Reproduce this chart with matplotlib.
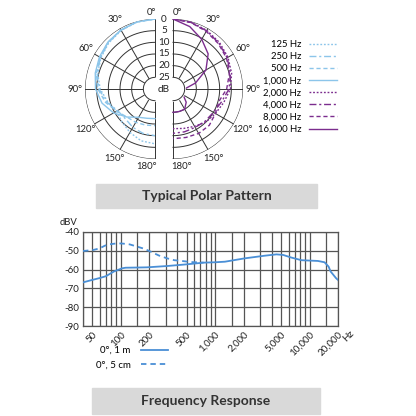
import numpy as np
import matplotlib
matplotlib.use("Agg")
import matplotlib.pyplot as plt
from matplotlib.patches import Rectangle
from matplotlib.transforms import offset_copy

plt.rcParams['font.family'] = ['Lato', 'DejaVu Sans']

# polar data: attenuation in dB at each angle (0 = front, 180 = rear)
angles = [0, 15, 30, 45, 60, 75, 90, 105, 120, 135, 150, 165, 180]
low_labels = ['125 Hz', '250 Hz', '500 Hz', '1,000 Hz']
low_db = [
    [0, 0.3, 1.0, 2.0, 3.2, 4.6, 6.5, 9.0, 11.0, 10.0, 8.5, 7.0, 6.5],
    [0, 0.2, 0.9, 1.8, 3.0, 4.3, 6.0, 8.5, 11.5, 12.0, 11.0, 10.3, 10.0],
    [0, 0.2, 0.8, 1.6, 2.8, 4.0, 5.5, 8.0, 11.0, 13.0, 13.5, 14.0, 14.3],
    [0, 0.2, 0.8, 1.5, 2.5, 3.5, 4.5, 6.5, 9.5, 13.0, 16.0, 17.0, 17.3],
]
high_labels = ['2,000 Hz', '4,000 Hz', '8,000 Hz', '16,000 Hz']
high_db = [
    [0, 0.3, 1.0, 1.8, 2.8, 4.0, 5.4, 7.5, 9.0, 10.0, 11.5, 12.5, 13.0],
    [0, 0.4, 1.2, 2.2, 3.2, 4.5, 6.0, 8.5, 10.0, 10.5, 11.0, 11.0, 11.0],
    [0, 0.5, 1.5, 2.5, 3.5, 5.0, 7.0, 9.6, 9.0, 8.0, 8.0, 8.5, 8.7],
    [0, 2.3, 5.4, 8.7, 13.7, 20.0, 25.0, 25.0, 25.0, 22.0, 20.0, 20.0, 20.0],
]
ring_db = [0, 5, 10, 15, 20, 25]
spoke_deg = [0, 30, 60, 90, 120, 150, 180]

# frequency response
freq_1m = [40, 50, 60, 70, 85, 104, 113, 150, 190, 310, 500, 755, 1000, 1270,
           2070, 3360, 4460, 5250, 6420, 8200, 12250, 14400, 15900, 16700, 19100, 20000]
resp_1m = [-66.8, -65.5, -64.5, -63.5, -61.0, -59.3, -59.0, -58.9, -58.8, -58.1,
           -57.2, -56.3, -56.1, -55.8, -54.0, -52.6, -51.9, -52.2, -53.6, -55.0,
           -55.4, -56.1, -58.4, -61.0, -64.6, -65.5]
freq_5cm = [40, 51, 60, 68, 75, 93, 107, 125, 150, 180, 215, 257, 310, 370, 444, 560, 755]
resp_5cm = [-50.1, -49.6, -48.7, -47.3, -46.6, -46.0, -46.2, -46.6, -47.8, -49.0,
            -50.8, -52.6, -54.0, -55.0, -55.4, -56.0, -56.3]
grid_freqs = [40, 50, 60, 70, 80, 90, 100, 150, 200, 300, 400, 500, 600, 700, 800, 900,
              1000, 1500, 2000, 3000, 4000, 5000, 6000, 7000, 8000, 9000, 10000, 15000, 20000]
tick_freqs = [50, 100, 200, 500, 1000, 2000, 5000, 10000, 20000]
tick_labels = ['50', '100', '200', '500', '1,000', '2,000', '5,000', '10,000', '20,000']
db_ticks = [-40, -50, -60, -70, -80, -90]

light_blue = '#8cc5ea'
purple = '#7b2d8e'
resp_blue = '#4a8fd6'
ink = '#222222'
styles = [(0, (1.3, 1.3)), (0, (5, 2, 1.5, 2)), (0, (3, 2)), '-']

W = 416
fig = plt.figure(figsize=(W / 100, W / 100), dpi=100)


def fx(px):
    return px / W


def fy(py):
    return 1 - py / W


def half_polar(cx, direction):
    # full polar axes centred on (cx, 89); only one half is drawn
    ax = fig.add_axes([fx(cx - 70), fy(159), fx(140), fx(140)], projection='polar')
    ax.set_theta_zero_location('N')
    ax.set_theta_direction(direction)
    ax.set_rlim(30, 0)
    ax.grid(False)
    ax.set_xticks([])
    ax.set_yticks([])
    for s in ax.spines.values():
        s.set_visible(False)
    ax.patch.set_visible(False)
    th = np.linspace(0, np.pi, 200)
    for d in ring_db:
        ax.plot(th, np.full_like(th, d), color='#333333', lw=0.7, zorder=6 if d == 25 else 1)
    for a in spoke_deg:
        ax.plot([np.deg2rad(a)] * 2, [25, 0], color='#333333', lw=0.7, zorder=1)
    ax.fill_between(th, 25, 30, color='white', zorder=5)
    return ax


axL = half_polar(155, 1)
axR = half_polar(173, -1)

th_data = np.deg2rad(angles)
handles = []
for vals, st, lab in zip(low_db, styles, low_labels):
    h, = axL.plot(th_data, vals, color=light_blue, lw=1.0, ls=st, label=lab, zorder=3)
    handles.append(h)
for vals, st, lab in zip(high_db, styles, high_labels):
    h, = axR.plot(th_data, vals, color=purple, lw=1.0, ls=st, label=lab, zorder=3)
    handles.append(h)

# angle labels
for ax in (axL, axR):
    for a in spoke_deg:
        if a == 0:
            t, r = 3, -3.0
        elif a == 180:
            t, r = 174, -3.6
        else:
            t, r = a, -4.4
        ax.text(np.deg2rad(t), r, f"{a}°", fontsize=6.8, ha='center', va='center', color=ink)

# dB scale in the gap
tr = offset_copy(axL.transData, fig=fig, x=9, y=0, units='dots')
for d in ring_db:
    axL.text(0, d, str(d), transform=tr, fontsize=7.2, ha='center', va='center', color=ink)
axL.text(0, 30, 'dB', transform=tr, fontsize=7.2, ha='center', va='center', color=ink)

fig.legend(handles, low_labels + high_labels, loc='upper right',
           bbox_to_anchor=(fx(337), fy(40)), markerfirst=False, frameon=False,
           fontsize=6.8, handlelength=3.0, handletextpad=0.8, labelspacing=0.33,
           borderpad=0, borderaxespad=0)

# frequency response
ax = fig.add_axes([fx(83), fy(326), fx(255), fx(94)])
ax.semilogx(freq_1m, resp_1m, color=resp_blue, lw=1.3, label='0°, 1 m', zorder=3)
ax.semilogx(freq_5cm, resp_5cm, color=resp_blue, lw=1.3, ls=(0, (3, 2.2)),
            label='0°, 5 cm', zorder=3)
ax.set_xlim(40, 20000)
ax.set_ylim(-90, -40)
ax.set_yticks(db_ticks)
ax.set_yticklabels([str(v) for v in db_ticks])
ax.set_xticks(tick_freqs)
ax.set_xticklabels(tick_labels, rotation=45, ha='right', va='top', rotation_mode='anchor')
ax.set_xticks([f for f in grid_freqs if f not in tick_freqs], minor=True)
ax.xaxis.set_minor_formatter(plt.NullFormatter())
ax.tick_params(which='both', length=0, labelsize=7, colors=ink, pad=3)
ax.grid(which='both', axis='x', color='#555555', lw=0.9)
ax.grid(which='major', axis='y', color='#555555', lw=0.9)
for s in ax.spines.values():
    s.set_color('#555555')
    s.set_linewidth(0.9)
ax.text(-0.055, 1.1, 'dBV', transform=ax.transAxes, fontsize=6.8, ha='center',
        va='center', color=ink)
ax.text(1.04, -0.11, 'Hz', transform=ax.transAxes, fontsize=7, rotation=45,
        ha='center', va='center', color=ink)
ax.legend(loc='upper left', bbox_to_anchor=(fx(96), fy(346)), bbox_transform=fig.transFigure,
          markerfirst=False, frameon=False, fontsize=7, handlelength=2.8,
          handletextpad=1.0, labelspacing=0.6, borderpad=0, borderaxespad=0)

# title bars
fig.patches.append(Rectangle((fx(96), fy(208)), fx(221), fx(24), transform=fig.transFigure,
                             color='#d9d9d9', zorder=0))
fig.text(fx(206.5), fy(196), 'Typical Polar Pattern', fontsize=10, fontweight='bold',
         ha='center', va='center', color='#333333')
fig.patches.append(Rectangle((fx(92), fy(414)), fx(228), fx(26), transform=fig.transFigure,
                             color='#d9d9d9', zorder=0))
fig.text(fx(206), fy(401), 'Frequency Response', fontsize=10, fontweight='bold',
         ha='center', va='center', color='#333333')

fig.savefig('out.png', dpi=100)
